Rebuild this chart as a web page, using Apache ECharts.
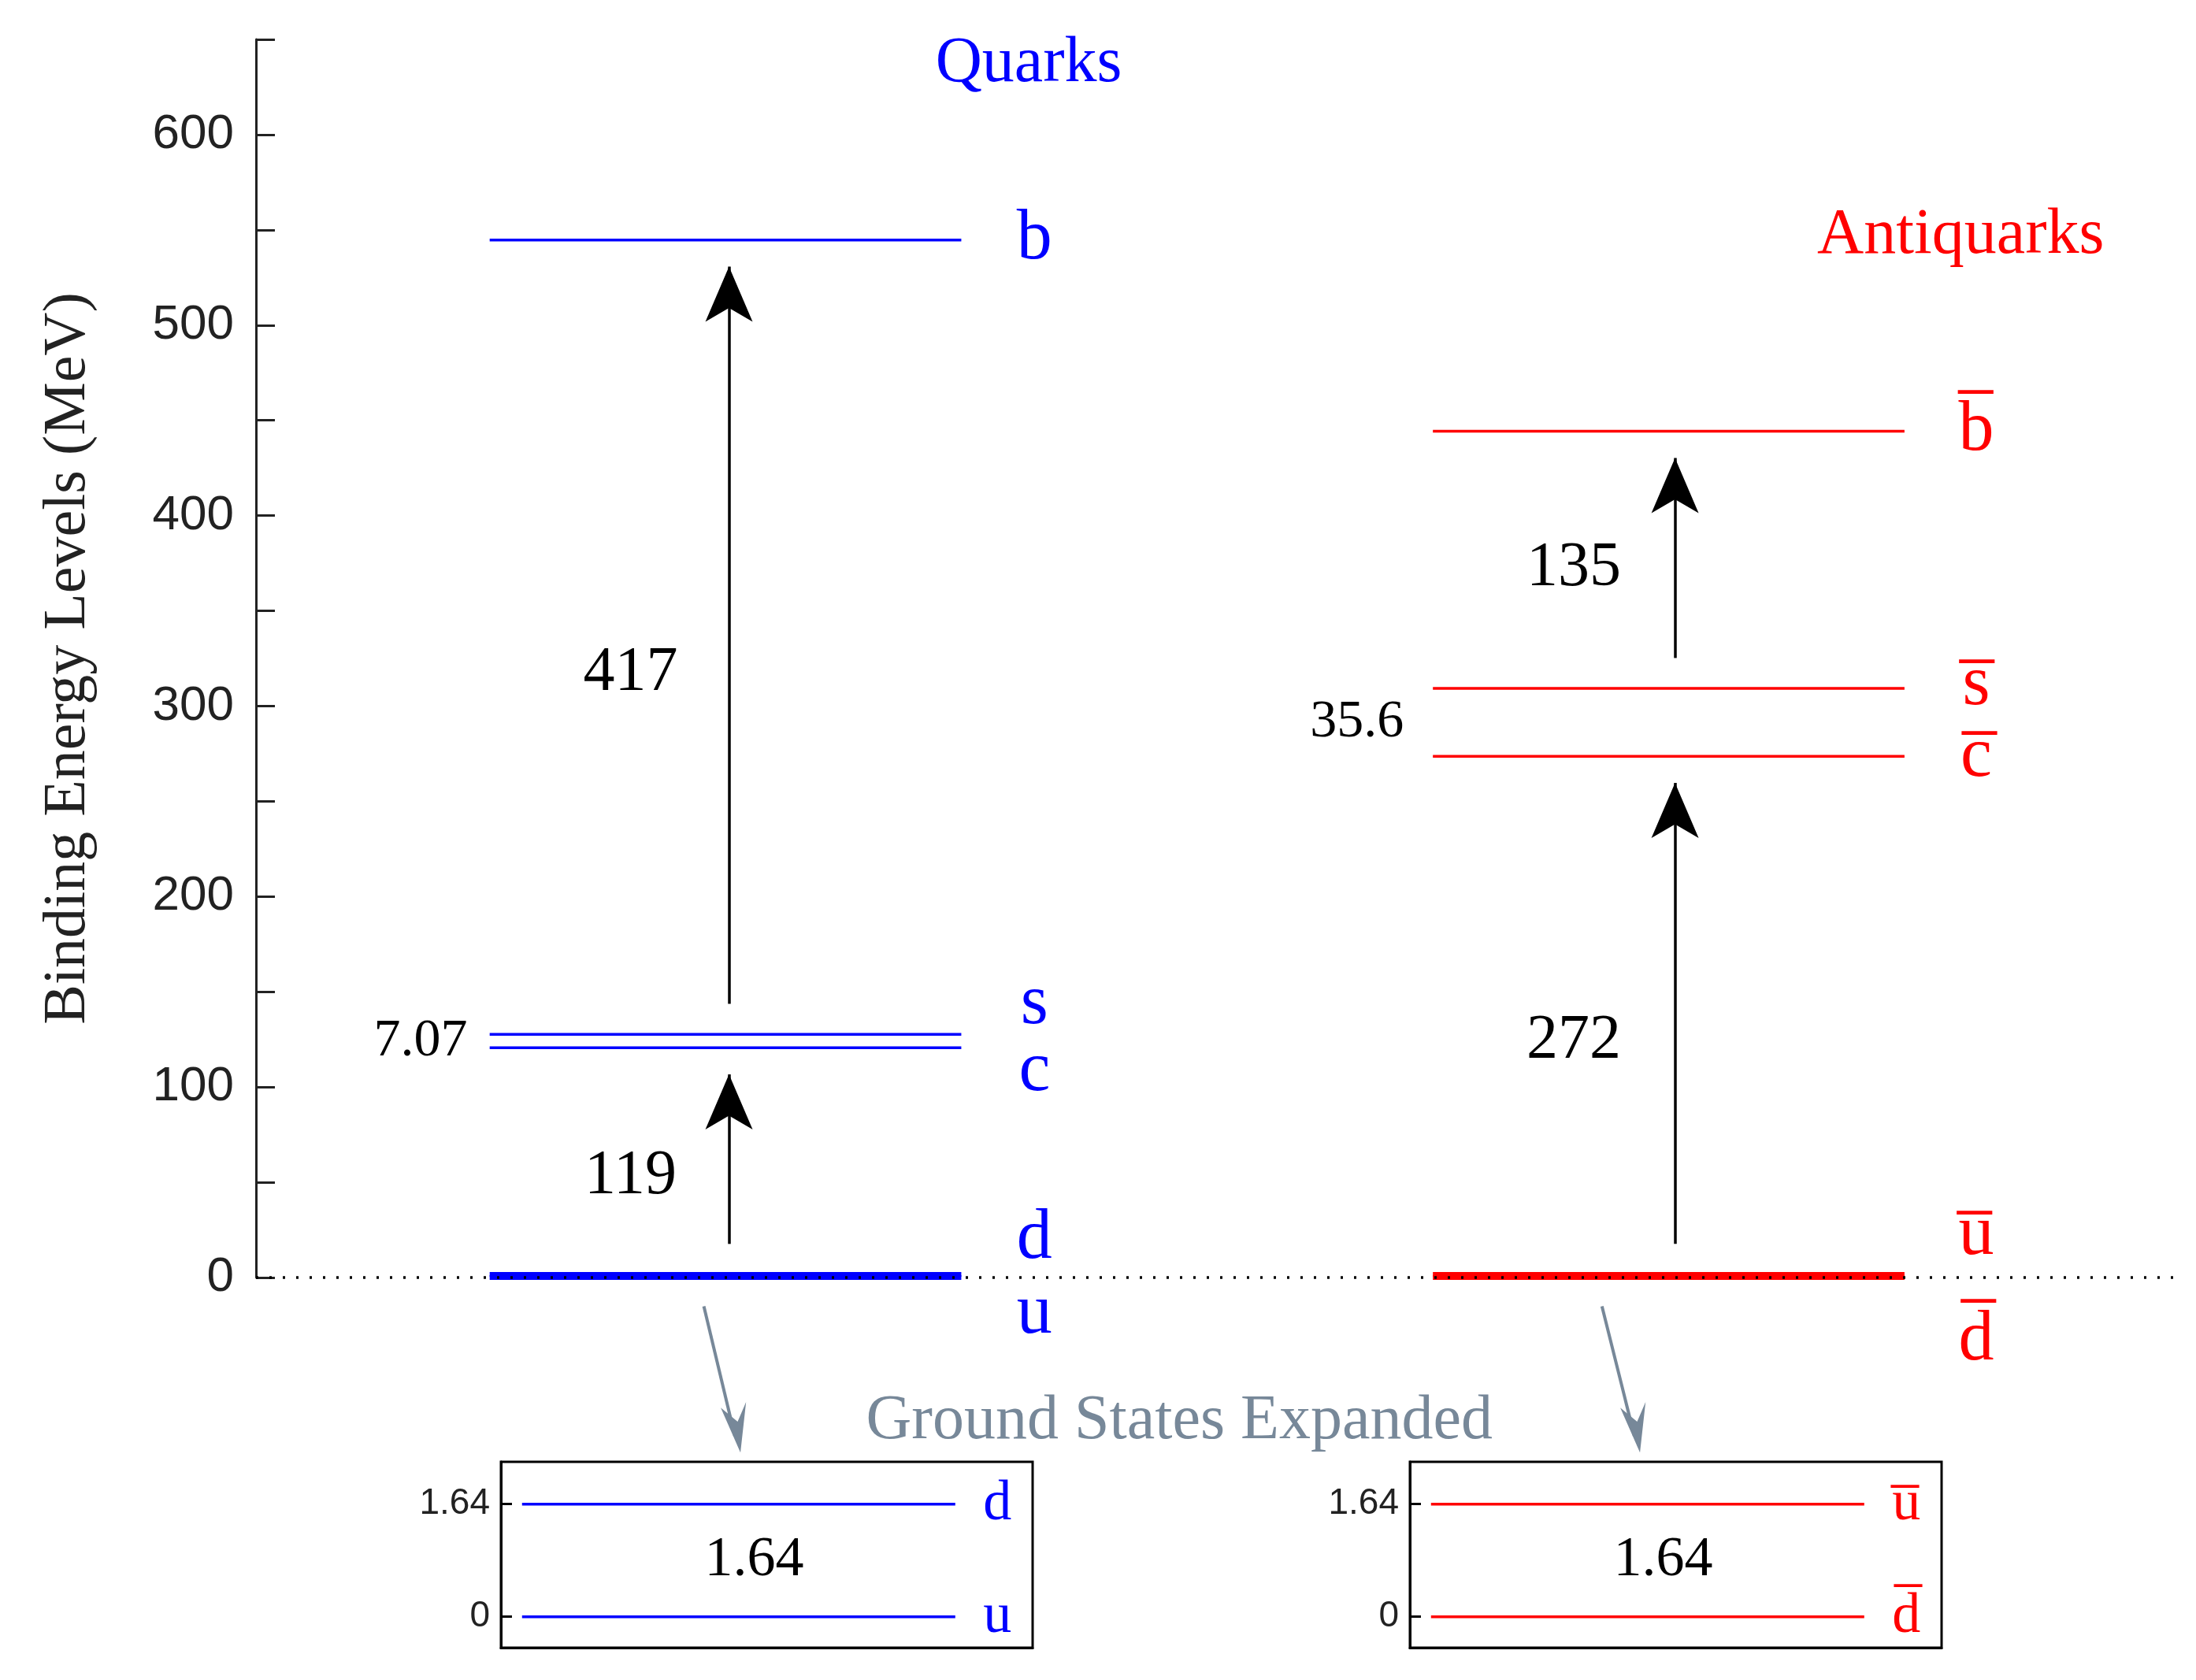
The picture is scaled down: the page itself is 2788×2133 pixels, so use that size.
<!DOCTYPE html>
<html><head><meta charset="utf-8">
<script src="https://cdn.jsdelivr.net/npm/echarts@6/dist/echarts.min.js"></script>
<style>html,body{margin:0;padding:0;background:#fff}#c{width:2788px;height:2133px}</style>
</head><body><div id="c"></div>
<script>
// Data
const quarkNames = ['u','d','c','s','b'];
const quarkLevels = [0, 1.64, 120.64, 127.71, 544.71];
const antiNames = ['d\u0305','u\u0305','c\u0305','s\u0305','b\u0305'];
const antiLevels = [0, 1.64, 273.64, 309.24, 444.24];
const quarkGaps = [{from:1.64,to:120.64,label:'119'},{from:127.71,to:544.71,label:'417'}];
const antiGaps = [{from:1.64,to:273.64,label:'272'},{from:309.24,to:444.24,label:'135'}];
const quarkSplit = '7.07', antiSplit = '35.6';
const groundGap = 1.64;
const yTicks = [0,100,200,300,400,500,600];

const s = 2788/1560;
const SERIF = 'Liberation Serif';
const BLUE = '#0000ff', RED = '#ff0000';
const TXT = {textBorderWidth:0, textShadowBlur:0, opacity:1};
const series = [];
function levels(xs, xe, vals, names, color, labX, thickIdx, offsets){
  vals.forEach((v,i)=>{
    series.push({type:'line', xAxisIndex:0, yAxisIndex:0, symbol:'none', silent:true,
      data:[[xs,v],[xe,v]], lineStyle:{color, width: thickIdx.includes(i)?6:3.5}});
    series.push({type:'scatter', xAxisIndex:0, yAxisIndex:0, symbolSize:0, silent:true,
      data:[[labX, v]], label:Object.assign({show:true, position:'inside', offset:[0,offsets[i]], formatter:names[i],
      color, fontFamily:SERIF, fontSize:90}, TXT)});
  });
}
levels(166,501,quarkLevels,quarkNames,BLUE,553,[0,1],[46,-45,30,-38,0]);
levels(836,1171,antiLevels,antiNames,RED,1222,[0,1],[80,-50,1,-4,0]);
function arrows(x, gaps, labX, labShift){
  gaps.forEach((g,i)=>{
    series.push({type:'line', xAxisIndex:0, yAxisIndex:0, symbol:'none', silent:true, data:[],
      markLine:{silent:true, symbol:['none','arrow'], symbolSize:[45,70],
        lineStyle:{color:'#000', width:3.5, type:'solid'}, label:{show:false},
        data:[[{coord:[x,g.from+16]},{coord:[x,g.to-14]}]]}});
    series.push({type:'scatter', xAxisIndex:0, yAxisIndex:0, symbolSize:0, silent:true,
      data:[[labX, labShift[i]]], label:Object.assign({show:true, position:'inside', formatter:g.label,
      color:'#000', fontFamily:SERIF, fontSize:80}, TXT)});
  });
}
arrows(336, quarkGaps, 266, [53,317]);
arrows(1008, antiGaps, 936, [124,372]);
series.push({type:'scatter', xAxisIndex:0, yAxisIndex:0, symbolSize:0, silent:true,
  data:[[117,(quarkLevels[2]+quarkLevels[3])/2]], label:Object.assign({show:true, position:'inside', formatter:quarkSplit, fontFamily:SERIF, fontSize:68, color:'#000'},TXT)});
series.push({type:'scatter', xAxisIndex:0, yAxisIndex:0, symbolSize:0, silent:true,
  data:[[782,(antiLevels[2]+antiLevels[3])/2]], label:Object.assign({show:true, position:'inside', formatter:antiSplit, fontFamily:SERIF, fontSize:68, color:'#000'},TXT)});
series.push({type:'line', xAxisIndex:0, yAxisIndex:0, symbol:'none', silent:true, data:[],
  markLine:{silent:true, symbol:'none', label:{show:false}, lineStyle:{color:'#000', type:[3,14], width:3.5},
    data:[{yAxis:0}]}});
function inset(ax, color, names){
  series.push({type:'line', xAxisIndex:ax, yAxisIndex:ax, symbol:'none', silent:true, data:[[15,0],[323,0]], lineStyle:{color,width:3.5}});
  series.push({type:'line', xAxisIndex:ax, yAxisIndex:ax, symbol:'none', silent:true, data:[[15,groundGap],[323,groundGap]], lineStyle:{color,width:3.5}});
  series.push({type:'scatter', xAxisIndex:ax, yAxisIndex:ax, symbolSize:0, silent:true,
    data:[[353,0],[353,groundGap]], label:Object.assign({show:true, position:'inside', formatter:p=>names[p.dataIndex], color, fontFamily:SERIF, fontSize:72},TXT)});
  series.push({type:'scatter', xAxisIndex:ax, yAxisIndex:ax, symbolSize:0, silent:true,
    data:[[180,groundGap/2]], label:Object.assign({show:true, position:'inside', formatter:String(groundGap), color:'#000', fontFamily:SERIF, fontSize:72},TXT)});
}
inset(1, BLUE, ['u','d']);
inset(2, RED, ['d\u0305','u\u0305']);

const insetY = i => ({gridIndex:i, type:'value', min:-0.451, max:2.255, splitLine:{show:false},
  axisLine:{show:true, lineStyle:{color:'#000', width:3}}, axisTick:{show:true, inside:true, length:14, lineStyle:{color:'#000',width:3},
  customValues:[0,groundGap]}, axisLabel:{customValues:[0,groundGap], color:'#222', fontFamily:'Liberation Sans', fontSize:46, margin:14}});
const insetX = i => ({gridIndex:i, type:'value', min:0, max:378, show:true, axisLabel:{show:false}, axisTick:{show:false}, splitLine:{show:false},
  axisLine:{show:true, onZero:false, lineStyle:{color:'#000',width:3}}});

const option = {
  animation:false, backgroundColor:'#fff',
  title:[
    {text:'Quarks', left:728*s, top:20*s, textAlign:'center', textStyle:{color:BLUE, fontFamily:SERIF, fontSize:82, fontWeight:'normal'}},
    {text:'Antiquarks', left:1390*s, top:142*s, textAlign:'center', textStyle:{color:RED, fontFamily:SERIF, fontSize:82, fontWeight:'normal'}},
    {text:'Ground States Expanded', left:835*s, top:985*s, textAlign:'center', textStyle:{color:'#778899', fontFamily:SERIF, fontSize:80, fontWeight:'normal'}}
  ],
  grid:[
    {left:325, top:50, width:2445, height:1572},
    {left:636, top:1856, width:675, height:236, borderColor:'#000', borderWidth:3, show:true},
    {left:1790, top:1856, width:675, height:236, borderColor:'#000', borderWidth:3, show:true}
  ],
  xAxis:[
    {gridIndex:0, type:'value', min:0, max:1368, show:false},
    insetX(1), insetX(2)
  ],
  yAxis:[
    {gridIndex:0, type:'value', min:0, max:650, interval:50, name:'Binding Energy Levels (MeV)', nameLocation:'middle', nameGap:200,
     nameTextStyle:{fontFamily:SERIF, fontSize:76, color:'#222'}, splitLine:{show:false},
     axisLine:{show:true, lineStyle:{color:'#222', width:3}},
     axisTick:{show:true, inside:true, length:24, lineStyle:{color:'#222', width:3}},
     axisLabel:{formatter:v=>yTicks.includes(v)?String(v):'', color:'#222', fontFamily:'Liberation Sans', fontSize:62, margin:28}},
    insetY(1), insetY(2)
  ],
  graphic:[
    {type:'line', shape:{x1:500*s,y1:928*s,x2:522*s,y2:1020*s}, style:{stroke:'#778899', lineWidth:4}},
    {type:'polygon', shape:{points:[[526*s,1032*s],[512*s,1000*s],[524*s,1010*s],[530*s,996*s]]}, style:{fill:'#778899'}},
    {type:'line', shape:{x1:1138*s,y1:928*s,x2:1161*s,y2:1020*s}, style:{stroke:'#778899', lineWidth:4}},
    {type:'polygon', shape:{points:[[1165*s,1032*s],[1151*s,1000*s],[1163*s,1010*s],[1169*s,996*s]]}, style:{fill:'#778899'}}
  ],
  series
};
echarts.init(document.getElementById('c')).setOption(option);
</script></body></html>
